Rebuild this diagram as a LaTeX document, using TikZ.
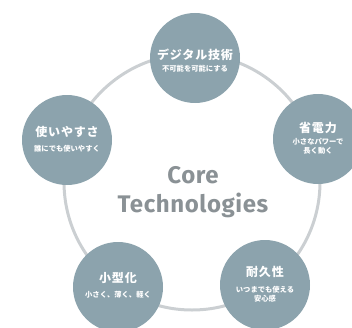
\documentclass[tikz,border=0pt]{standalone}
\usepackage{fontspec}
\setmainfont{Fira Sans}
\newfontfamily\corefont[LetterSpace=2.5]{Fira Sans}
\newfontfamily\jpfont{Noto Sans CJK JP}
\newfontfamily\jpttl[LetterSpace=7]{Noto Sans CJK JP}
\definecolor{techfill}{HTML}{8CA3AD}
\definecolor{ringcol}{HTML}{CBCFD2}
\definecolor{coretext}{HTML}{8A9195}
\tikzset{
  tech/.style={circle, fill=techfill, minimum size=90pt, inner sep=0pt},
  ttl/.style={text=white, font=\jpttl\bfseries\fontsize{12}{13}\selectfont, inner sep=0pt},
  sub/.style={text=white, font=\jpfont\bfseries\fontsize{7.3}{9}\selectfont, inner sep=0pt, align=center},
  ring/.style={draw=ringcol, line width=3pt},
  core/.style={text=coretext, font=\corefont\bfseries\fontsize{24}{28}\selectfont, inner sep=0pt, anchor=base}
}
\begin{document}
\begin{tikzpicture}[x=1pt,y=1pt]
\useasboundingbox (0,0) rectangle (352,327);
\coordinate (c) at (192,145);
\draw[ring] (c) circle (128);
\node[tech] (n1) at (195,269) {};
\node[tech] (n2) at (318,188) {};
\node[tech] (n3) at (265,42) {};
\node[tech] (n4) at (118,40) {};
\node[tech] (n5) at (67,187) {};
\node[ttl] (t1) at ([yshift=3]n1.center) {デジタル技術};
\node[sub] (s1) at ([yshift=-11]n1.center) {不可能を可能にする};
\node[ttl] (t2) at ([yshift=11]n2.center) {省電力};
\node[sub] (s2) at ([yshift=-7]n2.center) {小さなパワーで\\長く動く};
\node[ttl] (t3) at ([yshift=13]n3.center) {耐久性};
\node[sub] (s3) at ([yshift=-9]n3.center) {いつまでも使える\\安心感};
\node[ttl] (t4) at ([yshift=9]n4.center) {小型化};
\node[sub] (s4) at ([yshift=-8]n4.center) {小さく、薄く、軽く};
\node[ttl] (t5) at ([yshift=8]n5.center) {使いやすさ};
\node[sub] (s5) at ([yshift=-9]n5.center) {誰にでも使いやすく};
\node[core] (core1) at (193,144) {Core};
\node[core] (core2) at (193,115) {Technologies};
\end{tikzpicture}
\end{document}
